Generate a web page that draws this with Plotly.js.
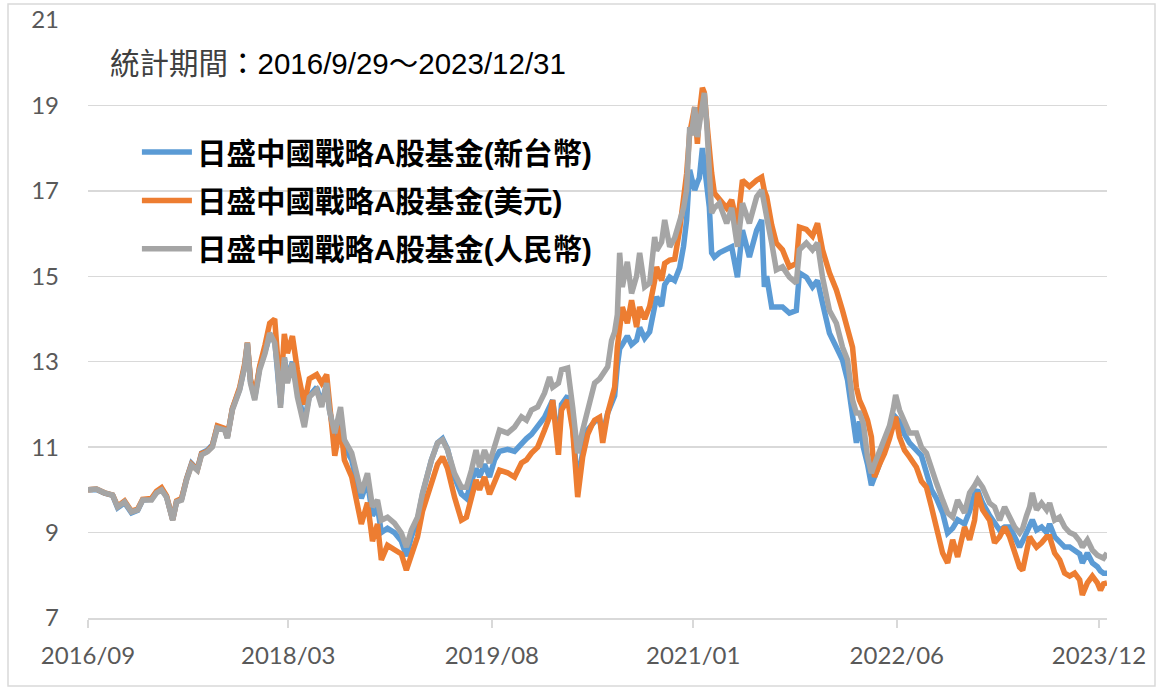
<!DOCTYPE html>
<html>
<head>
<meta charset="utf-8">
<script src="https://cdn.plot.ly/plotly-3.0.1.min.js"></script>
<style>
html,body{margin:0;padding:0;background:#fff;}
#chart{width:1161px;height:688px;}
</style>
</head>
<body>
<div id="chart"></div>
<script>
const seriesNames = ['日盛中國戰略A股基金(新台幣)', '日盛中國戰略A股基金(美元)', '日盛中國戰略A股基金(人民幣)'];
const seriesColors = ['#5b9bd5', '#ed7d31', '#a5a5a5'];
const titleText = '統計期間：2016/9/29～2023/12/31';
const tickDates = ['2016-09-29','2018-03-03','2019-08-14','2021-01-18','2022-07-01','2023-12-08'];
const tickLabels = ['2016/09','2018/03','2019/08','2021/01','2022/06','2023/12'];

const dates = [
'2016-09-29','2016-10-21','2016-11-11','2016-12-02','2016-12-15','2017-01-02','2017-01-20','2017-02-05','2017-02-18','2017-03-13',
'2017-03-26','2017-04-08','2017-04-21','2017-05-07','2017-05-17','2017-05-30','2017-06-12','2017-06-25','2017-07-10','2017-07-21',
'2017-08-05','2017-08-18','2017-08-31','2017-09-19','2017-09-26','2017-10-09','2017-10-28','2017-11-10','2017-11-17','2017-11-25',
'2017-12-06','2017-12-19',
'2018-01-02','2018-01-14','2018-01-27','2018-02-03','2018-02-11','2018-02-21','2018-03-01','2018-03-14','2018-03-27','2018-04-14',
'2018-04-27','2018-05-16','2018-05-29','2018-06-11','2018-06-18','2018-07-02','2018-07-17','2018-07-27','2018-08-15','2018-08-28',
'2018-09-09','2018-09-25','2018-10-08','2018-10-21','2018-10-31','2018-11-16','2018-12-04','2018-12-22',
'2019-01-04','2019-01-17','2019-02-02','2019-02-15','2019-02-28','2019-03-10','2019-03-26','2019-04-08','2019-04-21','2019-05-09',
'2019-05-27','2019-06-09','2019-06-22','2019-07-04','2019-07-13','2019-07-26','2019-08-08','2019-08-21','2019-09-03','2019-09-24',
'2019-10-12','2019-10-30','2019-11-12','2019-11-25','2019-12-11','2019-12-29','2020-01-11','2020-01-19','2020-02-03','2020-02-11',
'2020-02-27','2020-03-11','2020-03-24','2020-04-06',
'2020-04-19','2020-04-29','2020-05-07','2020-05-20','2020-05-28','2020-06-10','2020-06-20','2020-06-28','2020-07-05','2020-07-11',
'2020-07-18','2020-07-31','2020-08-11','2020-08-24','2020-09-01','2020-09-14','2020-09-27','2020-10-10','2020-10-15','2020-10-28',
'2020-11-05','2020-11-18','2020-12-01','2020-12-14','2020-12-24','2021-01-01','2021-01-09','2021-01-14','2021-01-22','2021-01-29',
'2021-02-03','2021-02-11','2021-02-16','2021-02-22','2021-03-01','2021-03-07','2021-03-14','2021-03-27','2021-04-15','2021-04-28',
'2021-05-13','2021-05-26','2021-06-13','2021-07-02','2021-07-15','2021-07-22','2021-07-28','2021-08-10','2021-08-22','2021-09-07',
'2021-09-25','2021-10-13','2021-10-21','2021-11-08','2021-11-24','2021-12-07','2021-12-20','2022-01-07','2022-01-25','2022-02-10',
'2022-02-23','2022-03-08','2022-03-18','2022-03-26','2022-04-05','2022-04-16','2022-04-26','2022-05-04','2022-05-17','2022-05-30',
'2022-06-12','2022-06-22','2022-06-28','2022-07-08','2022-07-21','2022-08-03','2022-08-21','2022-09-03','2022-09-16','2022-09-29',
'2022-10-12','2022-10-28','2022-11-10','2022-11-23','2022-12-06','2022-12-24',
'2023-01-06','2023-01-19','2023-01-27','2023-02-09','2023-02-27','2023-03-12','2023-03-25','2023-04-07','2023-04-20','2023-05-03',
'2023-05-16','2023-05-24','2023-06-03','2023-06-11','2023-06-18','2023-06-29','2023-07-12','2023-07-25','2023-08-02','2023-08-15',
'2023-08-28','2023-09-10','2023-09-23','2023-10-06','2023-10-19','2023-10-26','2023-11-08','2023-11-21','2023-12-04','2023-12-12',
'2023-12-20','2023-12-29'
];

const twd = [
10.0,10.01,9.92,9.87,9.58,9.7,9.46,9.52,9.76,9.78,9.95,10.02,9.84,9.3,9.72,9.78,10.26,10.62,10.48,10.86,
10.93,11.05,11.48,11.42,11.23,11.9,12.36,12.9,13.42,12.55,12.15,12.88,
13.25,13.6,13.5,12.9,12.0,13.1,12.6,13.0,12.3,11.6,12.2,12.4,12.0,12.5,11.9,11.2,11.8,11.0,10.7,10.2,9.8,10.2,9.4,9.6,9.0,9.1,9.0,8.8,
8.45,8.9,9.3,9.9,10.4,10.7,11.1,11.2,10.95,10.3,9.9,9.8,10.2,10.5,10.3,10.6,10.3,10.7,10.9,10.95,10.9,11.1,11.2,11.3,11.5,11.7,11.95,12.1,11.1,12.0,12.2,11.5,10.1,10.9,
11.4,11.5,11.6,11.65,11.3,11.8,12.0,12.2,12.9,13.3,
13.4,13.6,13.4,13.5,13.8,13.55,13.7,14.3,14.52,14.3,
14.8,14.98,14.9,15.2,15.7,16.32,17.49,17.3,17.02,17.2,
17.3,18.0,17.6,17.2,16.62,15.55,15.45,15.55,15.62,15.69,
14.98,16.08,15.45,16.08,16.32,14.75,15.0,14.28,14.28,14.28,
14.14,14.2,15.08,14.98,14.75,14.9,14.37,13.67,13.34,13.04,
12.57,11.8,11.1,11.6,11.0,10.6,10.11,10.3,10.6,11.0,
11.3,11.6,11.7,11.6,11.3,11.1,10.9,10.8,10.4,10.0,
9.8,9.46,8.99,9.1,9.3,9.2,
9.5,9.9,10.0,9.69,9.4,9.2,9.06,9.13,9.13,8.9,8.66,8.8,9.0,9.22,9.3,9.06,9.13,9.0,9.2,8.9,
8.8,8.66,8.66,8.59,8.5,8.29,8.52,8.29,8.2,8.1,8.05,8.05
];

const usd = [
10.0,10.02,9.93,9.88,9.62,9.74,9.5,9.55,9.78,9.8,9.97,10.05,9.86,9.3,9.74,9.8,10.25,10.6,10.47,10.85,
10.9,11.03,11.5,11.44,11.24,11.9,12.4,12.95,13.45,12.6,12.2,12.9,
13.4,13.9,14.0,13.3,12.2,13.65,13.2,13.6,12.8,12.0,12.6,12.7,12.5,12.7,12.1,10.8,11.5,10.7,10.3,9.7,9.2,9.7,8.8,9.2,8.36,8.7,8.6,8.5,
8.12,8.5,8.9,9.5,9.9,10.1,10.6,10.77,10.5,9.83,9.29,9.36,9.8,10.23,10.0,10.3,9.9,10.2,10.46,10.4,10.3,10.63,10.7,10.86,11.0,11.4,11.71,12.1,10.82,11.87,12.1,11.4,9.83,10.77,
11.3,11.5,11.63,11.7,11.1,11.8,12.17,12.4,13.34,13.9,
14.28,13.9,14.44,13.81,14.28,14.0,14.3,14.9,15.22,14.9,
15.3,15.38,15.4,16.1,16.9,17.4,18.35,18.66,18.96,18.1,
18.8,19.41,19.3,18.66,17.8,17.42,16.95,16.8,16.6,16.79,
16.2,17.25,17.1,17.25,17.32,17.0,16.86,16.2,15.78,15.62,
15.22,15.3,16.15,16.1,15.94,16.24,15.62,15.08,14.68,14.2,
13.81,13.34,12.4,12.1,11.9,11.63,11.24,10.3,10.6,10.85,
11.2,11.5,11.71,11.24,10.93,10.77,10.53,10.2,10.06,9.6,
9.13,8.52,8.29,8.83,8.43,9.13,
8.83,9.29,9.93,9.53,9.29,8.76,8.9,9.13,8.9,8.59,8.19,8.12,8.52,8.9,8.8,8.66,8.76,8.9,8.9,8.52,
8.36,8.05,7.98,8.05,7.89,7.54,7.82,7.98,7.82,7.65,7.8,7.82
];

const cny = [
10.0,10.02,9.93,9.88,9.6,9.72,9.48,9.53,9.76,9.76,9.93,10.0,9.83,9.29,9.72,9.76,10.23,10.58,10.46,10.82,
10.89,11.0,11.45,11.4,11.21,11.87,12.34,12.88,13.44,12.5,12.1,12.81,
13.2,13.67,13.44,12.88,11.92,13.1,12.5,12.97,12.17,11.47,12.17,12.34,11.94,12.5,11.87,11.33,11.94,11.17,10.86,10.39,9.93,10.39,9.6,9.76,9.29,9.36,9.22,8.99,
8.66,9.06,9.36,9.93,10.39,10.70,11.1,11.17,10.93,10.39,10.06,10.06,10.46,10.93,10.53,10.93,10.63,11.0,11.4,11.33,11.47,11.71,11.63,11.87,11.94,12.27,12.64,12.4,12.5,12.81,12.85,11.94,10.86,11.4,
11.87,12.3,12.5,12.6,12.73,12.88,13.5,13.7,14.1,15.55,
14.75,15.34,14.6,15.0,15.55,14.75,14.84,15.92,15.6,15.8,
16.32,15.69,15.9,16.3,16.6,17.02,18.49,18.3,18.96,18.26,
18.6,19.1,19.29,18.6,17.6,16.48,16.6,16.71,16.24,16.6,
15.69,16.71,16.24,16.86,17.02,16.6,16.39,15.78,15.15,15.22,
14.98,14.84,15.62,15.78,15.62,15.78,14.98,14.2,13.9,13.34,
13.04,12.1,11.8,11.8,11.56,10.77,10.39,10.6,10.9,11.2,
11.5,11.9,12.22,11.87,11.56,11.33,11.33,11.0,10.86,10.46,
10.16,9.76,9.46,9.36,9.76,9.46,
9.93,10.1,10.23,10.06,9.69,9.6,9.29,9.6,9.36,9.13,8.99,9.1,9.4,9.6,9.93,9.53,9.69,9.53,9.69,9.29,
9.36,9.13,9.0,8.95,8.8,8.66,8.83,8.59,8.47,8.45,8.40,8.52
];

const yValues = [twd, usd, cny];
const tickFont = {family: 'Lato, "Liberation Sans", sans-serif', size: 24, color: '#595959'};

const traces = yValues.map((ys, i) => ({
  type: 'scatter',
  mode: 'lines',
  x: dates,
  y: ys,
  name: seriesNames[i],
  legendgroup: 'g' + i,
  line: {color: seriesColors[i], width: 5.5, shape: 'linear'},
  hoverinfo: 'skip'
}));

const layout = {
  width: 1161,
  height: 688,
  margin: {l: 88, r: 54, t: 20, b: 70},
  paper_bgcolor: '#ffffff',
  plot_bgcolor: '#ffffff',
  showlegend: true,
  legend: {
    x: 0.048, y: 0.822, xanchor: 'left', yanchor: 'top',
    bgcolor: 'rgba(0,0,0,0)',
    itemwidth: 50,
    tracegroupgap: 7,
    traceorder: 'grouped',
    font: {family: '"Liberation Sans", "Noto Sans CJK TC", sans-serif', size: 29.5, color: '#000000', weight: 'bold'}
  },
  xaxis: {
    type: 'date',
    range: ['2016-09-29', '2023-12-29'],
    showgrid: false,
    zeroline: false,
    showline: true,
    linecolor: '#d9d9d9',
    linewidth: 1.5,
    ticks: 'outside',
    ticklen: 8,
    tickcolor: '#d9d9d9',
    tickwidth: 1.5,
    tickmode: 'array',
    tickvals: tickDates,
    ticktext: tickLabels,
    tickfont: tickFont,
    ticklabelstandoff: 8,
    fixedrange: true
  },
  yaxis: {
    range: [7, 21],
    tickmode: 'linear',
    tick0: 7,
    dtick: 2,
    showgrid: true,
    gridcolor: '#d9d9d9',
    gridwidth: 1.5,
    zeroline: false,
    showline: false,
    ticks: '',
    tickfont: tickFont,
    ticklabelstandoff: 28,
    fixedrange: true
  },
  annotations: [{
    xref: 'paper', yref: 'paper',
    x: 0.0196, y: 0.928, xanchor: 'left', yanchor: 'middle',
    showarrow: false,
    text: '<span style="color:#404040">統計期間</span>：2016/9/29～2023/12/31',
    font: {family: '"Liberation Sans", "Noto Sans CJK TC", sans-serif', size: 29.5, color: '#000000'}
  }],
  shapes: [{
    type: 'rect', xref: 'paper', yref: 'paper',
    x0: -0.0785, x1: 1.0471, y0: -0.1137, y1: 1.0268,
    line: {color: '#d9d9d9', width: 1.5},
    fillcolor: 'rgba(0,0,0,0)', layer: 'below'
  }]
};

Plotly.newPlot('chart', traces, layout, {displayModeBar: false, staticPlot: true});
</script>
</body>
</html>
